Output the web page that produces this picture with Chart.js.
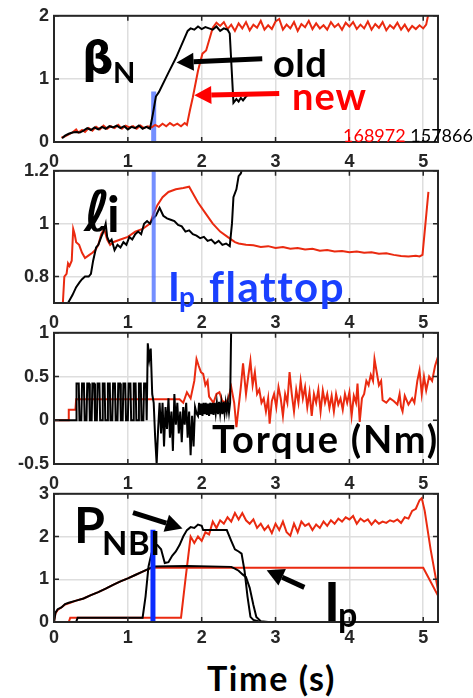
<!DOCTYPE html>
<html>
<head>
<meta charset="utf-8">
<script src="https://cdn.jsdelivr.net/npm/chart.js@4.4.0/dist/chart.umd.min.js"></script>
<style>
body { margin:0; background:#fff; }
#wrap { position:relative; width:473px; height:698px; overflow:hidden; background:#fff; }
canvas { position:absolute; left:0; }
.lbl { position:absolute; white-space:nowrap; font-family:Lato, "Open Sans", sans-serif; font-weight:bold; line-height:1; color:#000; }
</style>
</head>
<body>
<div id="wrap">
<canvas id="c1" width="473" height="172" style="top:0px"></canvas>
<canvas id="c2" width="473" height="178" style="top:155px"></canvas>
<canvas id="c3" width="473" height="177" style="top:317px"></canvas>
<canvas id="c4" width="473" height="174" style="top:478px"></canvas>

<div class="lbl" style="left:82px;top:36px;font-family:'DejaVu Sans';font-weight:bold;font-size:44px">β</div>
<div class="lbl" style="left:113px;top:57px;font-size:29px">N</div>
<div class="lbl" style="left:273px;top:43px;font-size:38px;letter-spacing:0.5px">old</div>
<div class="lbl" style="left:292px;top:76px;font-size:38px;letter-spacing:1px;color:#f00">new</div>
<div class="lbl" style="left:343px;top:126px;font-size:18px;font-weight:normal"><span style="color:#f00">168972</span> 157866</div>

<div class="lbl" style="left:84px;top:184px;font-family:'DejaVu Sans';font-weight:bold;font-style:italic;font-size:56px">ℓ</div>
<div class="lbl" style="left:107px;top:188px;font-size:50px">i</div>
<div class="lbl" style="left:168px;top:266px;font-size:40px;color:#1a40ff">I</div>
<div class="lbl" style="left:179px;top:282px;font-size:28px;color:#1a40ff">p</div>
<div class="lbl" style="left:209px;top:265px;font-size:42px;letter-spacing:1.5px;color:#1a40ff">flattop</div>

<div class="lbl" style="left:212px;top:419px;font-size:38px;letter-spacing:1.8px">Torque (Nm)</div>

<div class="lbl" style="left:74px;top:499px;font-size:50px">P</div>
<div class="lbl" style="left:102px;top:526px;font-size:33px;letter-spacing:0.5px">NBI</div>
<div class="lbl" style="left:324px;top:574px;font-size:54px">I</div>
<div class="lbl" style="left:338px;top:597px;font-size:34px">p</div>
<div class="lbl" style="left:207px;top:661px;font-size:34px;letter-spacing:1.6px">Time (s)</div>
</div>

<script>
// ------------------------------
// Data (time in s)
// ------------------------------

const xTicks = [0, 1, 2, 3, 4, 5];

const betaTicks = [0, 1, 2];
const liTicks = [0.8, 1, 1.2];
const torqueTicks = [-0.5, 0, 0.5, 1];
const powerTicks = [0, 1, 2, 3];

// beta_N, shot 168972 (new)
const betaNew = [
[0.1,0.07],[0.15,0.09],[0.2,0.12],[0.25,0.15],[0.3,0.2],[0.33,0.15],[0.38,0.19],[0.42,0.16],[0.47,0.22],[0.52,0.18],
[0.57,0.24],[0.62,0.2],[0.67,0.26],[0.72,0.21],[0.77,0.25],[0.82,0.22],[0.87,0.27],[0.92,0.21],[0.97,0.26],[1.02,0.23],
[1.07,0.25],[1.12,0.21],[1.17,0.26],[1.22,0.22],[1.27,0.25],[1.32,0.23],[1.37,0.27],[1.42,0.24],[1.47,0.29],[1.52,0.25],
[1.57,0.3],[1.62,0.26],[1.67,0.29],[1.72,0.25],[1.77,0.3],[1.8,0.27],[1.84,0.5],[1.88,0.71],[1.95,1.13],[2.01,1.4],
[2.06,1.45],[2.15,1.81],[2.2,1.89],[2.25,1.84],[2.3,1.9],[2.35,1.79],[2.4,1.86],[2.45,1.76],[2.5,1.88],[2.55,1.8],
[2.6,1.9],[2.65,1.77],[2.7,1.86],[2.75,1.81],[2.8,1.92],[2.85,1.78],[2.9,1.85],[2.95,1.79],[3.0,1.91],[3.05,1.95],
[3.1,1.78],[3.15,1.86],[3.2,1.8],[3.25,1.9],[3.3,1.76],[3.35,1.87],[3.4,1.82],[3.45,1.92],[3.5,1.79],[3.55,1.88],
[3.6,1.8],[3.65,1.85],[3.7,1.78],[3.75,1.9],[3.8,1.82],[3.85,1.87],[3.9,1.78],[3.95,1.89],[4.0,1.83],[4.05,1.9],
[4.1,1.79],[4.15,1.86],[4.2,1.8],[4.25,1.91],[4.3,1.78],[4.35,1.87],[4.4,1.81],[4.45,1.9],[4.5,1.77],[4.55,1.85],
[4.6,1.8],[4.65,1.89],[4.7,1.78],[4.75,1.86],[4.8,1.76],[4.85,1.84],[4.9,1.79],[4.95,1.85],[5.0,1.8],[5.04,1.86],[5.07,2.03]
];

// beta_N, shot 157866 (old)
const betaOld = [
[0.11,0.06],[0.15,0.1],[0.2,0.13],[0.25,0.15],[0.3,0.16],[0.35,0.15],[0.4,0.18],[0.45,0.22],[0.5,0.19],[0.55,0.23],
[0.6,0.2],[0.65,0.24],[0.7,0.21],[0.75,0.25],[0.8,0.23],[0.85,0.26],[0.9,0.22],[0.95,0.25],[1.0,0.2],[1.05,0.24],
[1.1,0.22],[1.15,0.26],[1.2,0.21],[1.25,0.24],[1.3,0.21],[1.34,0.45],[1.38,0.72],[1.42,0.79],[1.55,1.1],[1.65,1.33],
[1.75,1.6],[1.81,1.76],[1.85,1.8],[1.9,1.78],[1.95,1.83],[2.0,1.79],[2.05,1.82],[2.1,1.8],[2.15,1.78],[2.2,1.83],
[2.25,1.76],[2.3,1.8],[2.35,1.78],[2.38,1.72],[2.43,0.62],[2.47,0.68],[2.5,0.64],[2.53,0.7],[2.56,0.66],[2.6,0.72],[2.62,0.74]
];

// internal inductance l_i
const liNew = [
[0.12,0.7],[0.14,0.8],[0.17,0.81],[0.19,0.85],[0.21,0.84],[0.24,0.86],[0.26,0.98],[0.28,0.96],[0.3,0.93],[0.34,0.92],
[0.38,0.89],[0.42,0.87],[0.47,0.88],[0.52,0.89],[0.56,0.9],[0.6,0.92],[0.64,0.96],[0.68,0.98],[0.72,0.94],[0.76,0.92],
[0.8,0.93],[0.9,0.94],[1.0,0.95],[1.1,0.97],[1.2,0.98],[1.3,1.0],[1.35,1.04],[1.4,1.07],[1.47,1.1],[1.55,1.12],
[1.65,1.13],[1.75,1.135],[1.83,1.14],[1.87,1.12],[1.95,1.08],[2.05,1.04],[2.15,1.0],[2.25,0.97],[2.35,0.95],[2.45,0.93],
[2.5,0.925],[2.6,0.92],[2.7,0.918],[2.8,0.912],[2.9,0.915],[3.0,0.908],[3.1,0.912],[3.2,0.905],[3.3,0.908],[3.4,0.902],
[3.5,0.905],[3.6,0.898],[3.7,0.9],[3.8,0.895],[3.9,0.897],[4.0,0.892],[4.1,0.895],[4.2,0.89],[4.3,0.892],[4.4,0.886],
[4.5,0.888],[4.6,0.882],[4.7,0.878],[4.8,0.876],[4.9,0.879],[4.95,0.876],[4.99,0.882],[5.03,1.0],[5.07,1.12]
];

const liOld = [
[0.19,0.7],[0.25,0.73],[0.3,0.76],[0.35,0.78],[0.38,0.79],[0.42,0.8],[0.47,0.8],[0.5,0.81],[0.53,0.86],[0.57,0.91],
[0.6,0.92],[0.64,0.95],[0.67,0.97],[0.7,1.0],[0.72,0.95],[0.75,0.93],[0.78,0.94],[0.82,0.9],[0.86,0.92],[0.9,0.91],
[0.94,0.93],[0.98,0.92],[1.02,0.95],[1.06,0.94],[1.1,0.96],[1.14,0.97],[1.18,0.96],[1.22,1.0],[1.26,1.01],[1.3,1.0],
[1.34,1.02],[1.38,1.03],[1.43,1.06],[1.48,1.03],[1.53,1.02],[1.58,1.015],[1.63,1.01],[1.68,0.995],[1.73,0.99],[1.78,0.97],
[1.83,0.975],[1.88,0.96],[1.93,0.955],[1.98,0.945],[2.03,0.95],[2.08,0.935],[2.13,0.94],[2.18,0.925],[2.23,0.935],[2.28,0.92],
[2.33,0.925],[2.38,0.915],[2.41,1.0],[2.43,1.1],[2.47,1.13],[2.5,1.18],[2.53,1.19],[2.56,1.22]
];

// torque (Nm)
const torqueNew = [
[0,0],[0.19,0],[0.2,0.12],[0.29,0.12],[0.3,0.24],[1.7,0.24],[1.75,0.2],[1.8,0.32],[1.85,0.25],[1.9,0.45],
[1.93,0.7],[1.96,0.62],[1.99,0.55],[2.02,0.53],[2.05,0.4],[2.08,0.45],[2.1,0.27],[2.16,0.2],[2.2,0.3],[2.24,0.32],
[2.28,0.22],[2.33,0.2],[2.36,0.25],[2.4,0.38],[2.44,0.2],[2.47,-0.08],[2.5,0.15],[2.53,0.38],[2.56,0.65],[2.6,0.3],
[2.63,0.5],[2.66,0.68],[2.69,0.4],[2.72,0.55],[2.75,0.3],[2.78,0.35],[2.81,0.2],[2.84,0.25],[2.87,0.1],[2.9,0.25],
[2.92,-0.04],[2.95,0.22],[2.98,0.3],[3.01,0.15],[3.04,0.38],[3.07,0.25],[3.1,0.05],[3.13,0.3],[3.16,0.2],[3.19,0.55],
[3.22,0.3],[3.25,0.1],[3.28,0.35],[3.31,0.2],[3.34,0.45],[3.37,0.25],[3.4,0.38],[3.43,0.15],[3.46,0.32],[3.49,0.05],
[3.52,0.3],[3.55,0.2],[3.58,0.35],[3.61,0.1],[3.64,0.34],[3.67,0.2],[3.7,0.3],[3.73,0.14],[3.76,0.28],[3.79,0.1],
[3.82,0.3],[3.85,0.18],[3.88,0.25],[3.91,0.12],[3.94,0.3],[3.97,0.2],[4.0,0.32],[4.03,0.05],[4.06,0.28],[4.09,0.2],
[4.11,0.42],[4.14,-0.02],[4.17,0.25],[4.2,0.3],[4.23,0.45],[4.26,0.4],[4.29,0.52],[4.32,0.45],[4.34,0.7],[4.37,0.55],
[4.4,0.4],[4.43,0.45],[4.45,0.23],[4.5,0.2],[4.55,0.25],[4.6,0.22],[4.65,0.18],[4.68,0.3],[4.7,0.15],[4.72,0.1],
[4.75,0.28],[4.8,0.18],[4.85,0.25],[4.88,0.2],[4.92,0.45],[4.95,0.57],[4.98,0.3],[5.01,0.5],[5.04,0.34],[5.08,0.5],
[5.12,0.45],[5.16,0.62],[5.19,0.7],[5.2,0.66]
];

const torqueOld = [
[0,0],[0.3,0],
[0.3,0],[0.31,0.42],[0.335,0.42],[0.345,0],[0.37,0],[0.38,0.42],[0.405,0.42],[0.415,0],
[0.44,0],[0.45,0.42],[0.475,0.42],[0.485,0],[0.51,0],[0.52,0.42],[0.545,0.42],[0.555,0],
[0.58,0],[0.59,0.42],[0.615,0.42],[0.625,0],[0.65,0],[0.66,0.42],[0.685,0.42],[0.695,0],
[0.72,0],[0.73,0.42],[0.755,0.42],[0.765,0],[0.79,0],[0.8,0.42],[0.825,0.42],[0.835,0],
[0.86,0],[0.87,0.42],[0.895,0.42],[0.905,0],[0.93,0],[0.94,0.42],[0.965,0.42],[0.975,0],
[1.0,0],[1.01,0.42],[1.035,0.42],[1.045,0],[1.07,0],[1.08,0.42],[1.105,0.42],[1.115,0],
[1.14,0],[1.15,0.42],[1.175,0.42],[1.185,0],[1.21,0],[1.22,0.42],[1.245,0.42],[1.255,0],
[1.27,0.88],[1.29,0.7],[1.31,0.82],[1.33,0.3],[1.35,0.2],[1.37,-0.2],[1.39,-0.5],[1.41,-0.1],[1.43,0.2],[1.45,-0.15],
[1.47,0.2],[1.49,-0.3],[1.51,0.15],[1.53,-0.1],[1.55,0.25],[1.57,-0.2],[1.59,0.1],[1.61,-0.35],[1.63,0.3],[1.65,-0.05],
[1.67,0.2],[1.69,-0.15],[1.71,0.1],[1.73,-0.25],[1.75,0.15],[1.77,-0.05],[1.79,0.2],[1.81,-0.2],[1.83,0.1],[1.85,-0.4],
[1.87,0.05],[1.89,-0.3],[1.91,0.15],[1.93,0.08],[1.95,0.05],[1.965,0.2],[1.98,0.06],[1.995,0.19],[2.01,0.05],[2.025,0.2],
[2.04,0.07],[2.055,0.2],[2.07,0.06],[2.085,0.19],[2.1,0.05],[2.115,0.2],[2.13,0.07],[2.145,0.2],[2.16,0.06],[2.175,0.2],
[2.19,0.08],[2.205,0.2],[2.22,0.07],[2.235,0.21],[2.25,0.08],[2.265,0.2],[2.28,0.07],[2.295,0.21],[2.31,0.08],[2.325,0.2],
[2.34,0.1],[2.355,0.21],[2.37,0.09],[2.385,0.2],[2.39,0.2],[2.4,1.1]
];

// plasma current Ip (MA) and beam power P_NBI (MW)
const ipNew = [
[0,0],[0.02,0.2],[0.05,0.28],[0.1,0.34],[0.15,0.41],[0.2,0.44],[0.3,0.5],[0.4,0.55],[0.5,0.63],[0.6,0.7],
[0.7,0.78],[0.8,0.87],[0.9,0.95],[1.0,1.02],[1.1,1.1],[1.2,1.18],[1.3,1.25],[1.35,1.27],[5.0,1.27],[5.22,0.55]
];

const ipOld = [
[0,0],[0.02,0.22],[0.05,0.3],[0.1,0.34],[0.15,0.42],[0.2,0.45],[0.3,0.5],[0.4,0.55],[0.5,0.63],[0.6,0.7],
[0.7,0.78],[0.8,0.87],[0.9,0.95],[1.0,1.02],[1.1,1.1],[1.2,1.18],[1.3,1.26],[1.35,1.3],[1.8,1.31],[2.4,1.29],
[2.45,1.25],[2.5,1.2],[2.55,1.12],[2.6,1.05],[2.65,0.8],[2.7,0.4],[2.74,0.12],[2.8,0.02],[2.9,0],[5.2,0]
];

const pnbiNew = [
[0,0],[0.2,0],[0.22,0.1],[1.72,0.1],[1.78,1.0],[1.85,2.0],[1.9,1.85],[1.95,2.0],[2.0,1.9],[2.05,2.1],
[2.1,2.05],[2.15,2.35],[2.2,2.2],[2.25,2.38],[2.3,2.3],[2.35,2.45],[2.4,2.35],[2.45,2.55],[2.5,2.4],[2.55,2.55],
[2.6,2.38],[2.65,2.3],[2.7,2.4],[2.75,2.2],[2.8,2.3],[2.85,2.15],[2.9,2.25],[2.95,2.08],[3.0,2.3],[3.05,2.15],
[3.1,2.35],[3.15,2.1],[3.2,2.02],[3.25,2.3],[3.3,2.1],[3.35,2.35],[3.4,2.25],[3.45,2.3],[3.5,2.15],[3.55,2.28],
[3.6,2.2],[3.65,2.35],[3.7,2.25],[3.75,2.38],[3.8,2.3],[3.85,2.42],[3.9,2.35],[3.95,2.45],[4.0,2.4],[4.05,2.48],
[4.1,2.3],[4.15,2.42],[4.2,2.35],[4.25,2.4],[4.3,2.28],[4.35,2.38],[4.4,2.3],[4.45,2.35],[4.5,2.32],[4.55,2.38],
[4.6,2.35],[4.65,2.4],[4.7,2.32],[4.75,2.45],[4.8,2.42],[4.85,2.6],[4.9,2.65],[4.95,2.85],[4.98,2.9],[5.02,2.6],
[5.1,1.7],[5.22,0.55]
];

const pnbiOld = [
[0,0],[0.3,0],[0.32,0.1],[1.2,0.1],[1.24,0.6],[1.28,1.3],[1.32,1.6],[1.36,1.78],[1.4,1.8],[1.45,1.7],
[1.5,1.38],[1.55,1.4],[1.6,1.55],[1.65,1.65],[1.7,1.8],[1.75,2.0],[1.8,2.15],[1.85,2.22],[1.9,2.2],[1.95,2.28],
[2.0,2.25],[2.02,2.15],[2.34,2.15],[2.4,1.9],[2.45,1.7],[2.5,1.65],[2.54,1.6],[2.58,1.2],[2.62,0.6],[2.66,0.12],
[2.7,0.05],[2.8,0],[5.2,0]
];

// Ip flattop marker
const flattop1 = [[1.35,0],[1.35,0.8]];
const flattop2 = [[1.35,0.7],[1.35,1.2]];
const flattop4 = [[1.34,0],[1.34,2.16]];

// arrows: [x tail, y tail, x tip, y tip, colour]
const betaArrows = [[2.82,1.32,1.66,1.26,"#000"],[3.05,0.77,1.9,0.74,"#f00"]];
const powerArrows = [[1.07,2.56,1.74,2.19,"#000"],[3.39,0.81,2.88,1.21,"#000"]];

const RED = "#ea2a10";

// ------------------------------
// Helpers
// ------------------------------

function pts(a) {
    return a.map(p => ({x: p[0], y: p[1]}));
}

function drawArrow(ctx, x0, y0, x1, y1, color) {
    const ang = Math.atan2(y1 - y0, x1 - x0);
    const head = 17, half = 9;
    const bx = x1 - head * Math.cos(ang), by = y1 - head * Math.sin(ang);
    ctx.strokeStyle = color;
    ctx.fillStyle = color;
    ctx.lineWidth = 5;
    ctx.beginPath();
    ctx.moveTo(x0, y0);
    ctx.lineTo(bx, by);
    ctx.stroke();
    ctx.beginPath();
    ctx.moveTo(x1, y1);
    ctx.lineTo(bx + half * Math.sin(ang), by - half * Math.cos(ang));
    ctx.lineTo(bx - half * Math.sin(ang), by + half * Math.cos(ang));
    ctx.closePath();
    ctx.fill();
}

const frame = {
    id: "frame",
    afterDatasetsDraw(chart, args, opts) {
        const a = chart.chartArea, ctx = chart.ctx;
        const xs = chart.scales.x, ys = chart.scales.y;
        ctx.save();
        ctx.strokeStyle = "#262626";
        ctx.lineWidth = 1.5;
        ctx.beginPath();
        xs.ticks.forEach(t => {
            const px = xs.getPixelForValue(t.value);
            ctx.moveTo(px, a.bottom); ctx.lineTo(px, a.bottom - 5);
            ctx.moveTo(px, a.top); ctx.lineTo(px, a.top + 5);
        });
        ys.ticks.forEach(t => {
            const py = ys.getPixelForValue(t.value);
            ctx.moveTo(a.left, py); ctx.lineTo(a.left + 5, py);
            ctx.moveTo(a.right, py); ctx.lineTo(a.right - 5, py);
        });
        ctx.stroke();
        ctx.lineWidth = 2;
        ctx.strokeRect(a.left, a.top, a.right - a.left, a.bottom - a.top);
        (opts.arrows || []).forEach(r => {
            drawArrow(ctx, xs.getPixelForValue(r[0]), ys.getPixelForValue(r[1]),
                xs.getPixelForValue(r[2]), ys.getPixelForValue(r[3]), r[4]);
        });
        ctx.restore();
    }
};

function line(data, color, width) {
    return {
        data: pts(data),
        borderColor: color,
        borderWidth: width || 2,
        pointRadius: 0,
        tension: 0,
        fill: false
    };
}

function makeChart(id, datasets, yMin, yMax, yTicks, xPad, arrows) {
    const tickFont = {family: "Liberation Sans", size: 18, weight: "bold"};
    return new Chart(document.getElementById(id), {
        type: "line",
        data: {datasets: datasets},
        options: {
            responsive: false,
            animation: false,
            events: [],
            layout: {autoPadding: false, padding: {top: 15, right: 35, left: 0, bottom: 0}},
            plugins: {legend: {display: false}, tooltip: {enabled: false}, frame: {arrows: arrows}},
            scales: {
                x: {
                    type: "linear", min: 0, max: 5.2,
                    afterBuildTicks: s => { s.ticks = xTicks.map(v => ({value: v})); },
                    afterFit: s => { s.height = 30; },
                    grid: {color: "#dedede", lineWidth: 1.5, drawTicks: false},
                    border: {display: false},
                    ticks: {padding: xPad, color: "#262626", font: tickFont, maxRotation: 0, autoSkip: false, callback: v => String(v)}
                },
                y: {
                    type: "linear", min: yMin, max: yMax,
                    afterBuildTicks: s => { s.ticks = yTicks.map(v => ({value: v})); },
                    afterFit: s => { s.width = 54; },
                    grid: {color: "#dedede", lineWidth: 1.5, drawTicks: false},
                    border: {display: false},
                    ticks: {padding: 5, color: "#262626", font: tickFont, autoSkip: false, callback: v => String(v)}
                }
            }
        },
        plugins: [frame]
    });
}

// ------------------------------
// Panels
// ------------------------------

makeChart("c1", [
    line(betaOld, "#000"),
    line(betaNew, RED),
    line(flattop1, "rgba(70,105,255,0.75)", 5)
], 0, 2, betaTicks, 9, betaArrows);

makeChart("c2", [
    line(flattop2, "rgba(70,105,255,0.75)", 4),
    line(liOld, "#000"),
    line(liNew, RED)
], 0.7, 1.2, liTicks, 9, []);

makeChart("c3", [
    line(torqueOld, "#000"),
    line(torqueNew, RED)
], -0.5, 1, torqueTicks, 9, []);

makeChart("c4", [
    line(flattop4, "#0a2cff", 5),
    line(ipOld, "#000"),
    line(pnbiOld, "#000"),
    line(ipNew, RED),
    line(pnbiNew, RED)
], 0, 3, powerTicks, 5, powerArrows);
</script>
</body>
</html>
